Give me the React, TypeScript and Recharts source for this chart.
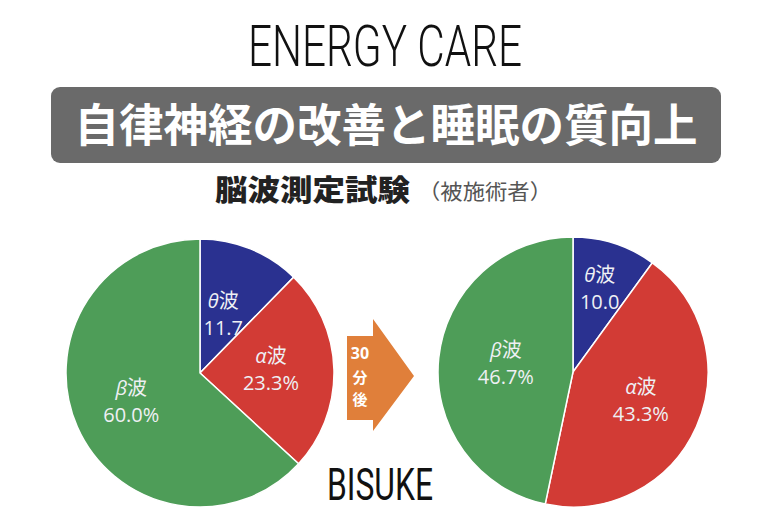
import React from "react";
import { PieChart, Pie, Cell } from "recharts";

const waveNames = ["θ", "α", "β"];
const beforeValues = [11.7, 23.3, 60.0];
const beforeLabels = ["11.7", "23.3%", "60.0%"];
const afterValues = [10.0, 43.3, 46.7];
const afterLabels = ["10.0", "43.3%", "46.7%"];

const COLORS = ["#2a3190", "#d23b35", "#4e9d58"];
const beforeLabelR = [0.46, 0.53, 0.56];
const afterLabelR = [0.64, 0.55, 0.5];

const beforeData = waveNames.map((n, i) => ({ name: n, value: beforeValues[i], text: beforeLabels[i] }));
const afterData = waveNames.map((n, i) => ({ name: n, value: afterValues[i], text: afterLabels[i] }));

const RAD = Math.PI / 180;
const LABEL_FONT = "'Open Sans', 'Noto Sans CJK JP', sans-serif";

function makeLabel(radii: number[]) {
  return (props: any) => {
    const { cx, cy, midAngle, outerRadius, index, payload } = props;
    const r = outerRadius * radii[index];
    const x = cx + r * Math.cos(-midAngle * RAD);
    const y = cy + r * Math.sin(-midAngle * RAD);
    const name = payload?.name ?? waveNames[index];
    const text = payload?.text ?? "";
    return (
      <g>
        <text x={x} y={y - 13} textAnchor="middle" dominantBaseline="middle" fill="#eef0f4" fontSize={20} fontFamily={LABEL_FONT}>
          <tspan fontStyle="italic">{name}</tspan>
          <tspan fontFamily="'Noto Sans CJK JP', sans-serif">波</tspan>
        </text>
        <text x={x} y={y + 14} textAnchor="middle" dominantBaseline="middle" fill="#eef0f4" fontSize={20} fontFamily={LABEL_FONT}>
          {text}
        </text>
      </g>
    );
  };
}

export default function App() {
  return (
    <div style={{ position: "absolute", left: 0, top: 0, width: 770, height: 510, background: "#fff", overflow: "hidden" }}>
      <div style={{ position: "absolute", left: 0, top: 0 }}>
        <PieChart width={770} height={510} margin={{ top: 0, right: 0, bottom: 0, left: 0 }}>
          <Pie
            data={beforeData}
            dataKey="value"
            nameKey="name"
            cx={200}
            cy={373}
            outerRadius={134}
            startAngle={90}
            endAngle={-270}
            stroke="#ffffff"
            strokeWidth={1.5}
            isAnimationActive={false}
            labelLine={false}
            label={makeLabel(beforeLabelR)}
          >
            {beforeData.map((d, i) => (
              <Cell key={d.name} fill={COLORS[i]} />
            ))}
          </Pie>
          <Pie
            data={afterData}
            dataKey="value"
            nameKey="name"
            cx={573}
            cy={372}
            outerRadius={135}
            startAngle={90}
            endAngle={-270}
            stroke="#ffffff"
            strokeWidth={1.5}
            isAnimationActive={false}
            labelLine={false}
            label={makeLabel(afterLabelR)}
          >
            {afterData.map((d, i) => (
              <Cell key={d.name} fill={COLORS[i]} />
            ))}
          </Pie>
        </PieChart>
      </div>
      <svg width={770} height={510} style={{ position: "absolute", left: 0, top: 0, pointerEvents: "none" }}>
        <text x={385} y={66} textAnchor="middle" fontFamily="Roboto, sans-serif" fontWeight={300} fontSize={58} fill="#111" textLength={274} lengthAdjust="spacingAndGlyphs">
          ENERGY CARE
        </text>
        <rect x={51} y={87} width={670} height={76} rx={9} ry={9} fill="#6a6a6a" />
        <text x={386} y={142} textAnchor="middle" fontFamily="'Noto Sans CJK JP', sans-serif" fontWeight={700} fontSize={45} fill="#ffffff" textLength={623} lengthAdjust="spacingAndGlyphs">
          自律神経の改善と睡眠の質向上
        </text>
        <text x={215} y={201} fontFamily="'Noto Sans CJK JP', sans-serif" fontWeight={900} fontSize={29} fill="#222" textLength={195} lengthAdjust="spacingAndGlyphs">
          脳波測定試験
        </text>
        <text x={418} y={199} fontFamily="'Noto Sans CJK JP', sans-serif" fontWeight={400} fontSize={21} fill="#555" textLength={134} lengthAdjust="spacingAndGlyphs">
          （被施術者）
        </text>
        <polygon points="347,336 373,336 373,319 414,376 373,431 373,420 347,420" fill="#e07f3a" />
        <text x={360} y={359} textAnchor="middle" fontFamily="'Noto Sans', sans-serif" fontWeight={700} fontSize={16} fill="#fff">30</text>
        <text x={360} y={383} textAnchor="middle" fontFamily="'Noto Sans CJK JP', sans-serif" fontWeight={700} fontSize={15} fill="#fff">分</text>
        <text x={360} y={405} textAnchor="middle" fontFamily="'Noto Sans CJK JP', sans-serif" fontWeight={700} fontSize={15} fill="#fff">後</text>
        <text x={380} y={500} textAnchor="middle" fontFamily="Roboto, sans-serif" fontWeight={400} fontSize={45} fill="#111" textLength={106} lengthAdjust="spacingAndGlyphs">
          BISUKE
        </text>
      </svg>
    </div>
  );
}
